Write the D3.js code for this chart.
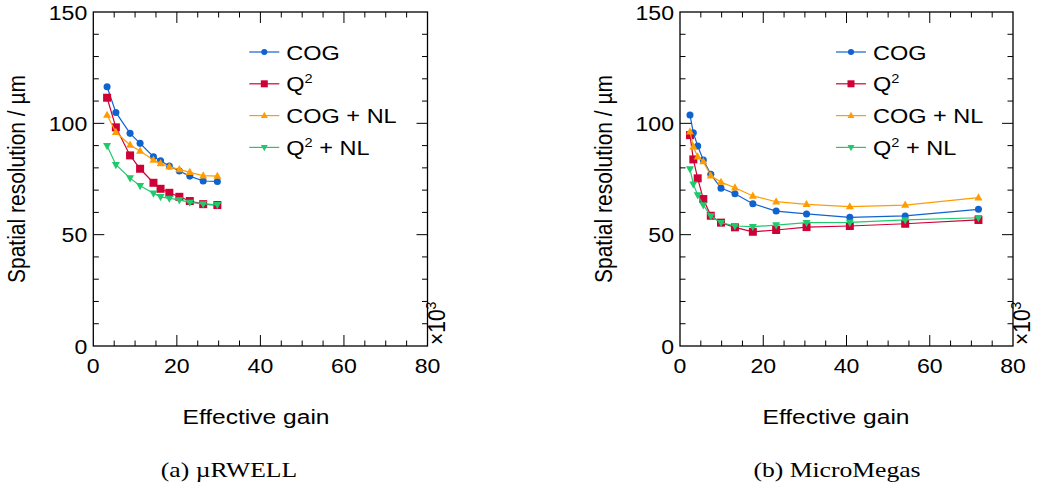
<!DOCTYPE html>
<html>
<head>
<meta charset="utf-8">
<script src="https://cdn.jsdelivr.net/npm/d3@7"></script>
<style>
html,body{margin:0;padding:0;background:#fff;}
svg{display:block;}
text{font-family:"Liberation Sans",Arial,Helvetica,sans-serif;fill:#000;}
.cap{font-family:"Liberation Serif","Times New Roman",serif;}
</style>
</head>
<body>
<svg id="c" width="1043" height="488"></svg>
<script>
// ---------- data (gain in units of 10^3, resolution in µm) ----------
const rwellGain  = [3.3, 5.4, 8.8, 11.2, 14.4, 16.1, 18.2, 20.6, 23.1, 26.3, 29.7];
const rwellCOG   = [116.4, 104.9, 95.5, 91.0, 85.0, 83.2, 80.8, 78.6, 76.3, 74.1, 73.9];
const rwellQ2    = [111.5, 98.2, 85.6, 79.6, 73.3, 70.6, 68.8, 67.0, 65.1, 63.7, 63.3];
const rwellCOGNL = [103.7, 96.0, 90.3, 87.6, 83.5, 82.0, 80.5, 79.3, 78.0, 76.5, 76.3];
const rwellQ2NL  = [89.9, 81.4, 75.4, 72.0, 68.6, 67.0, 66.3, 65.6, 64.5, 63.8, 63.4];

const mmGain  = [2.4, 3.2, 4.25, 5.6, 7.4, 9.85, 13.2, 17.5, 23.1, 30.4, 40.8, 54.1, 71.7];
const mmCOG   = [103.7, 95.8, 89.8, 83.5, 77.1, 70.9, 68.4, 63.9, 60.6, 59.3, 57.8, 58.4, 61.4];
const mmQ2    = [94.7, 83.8, 75.3, 66.0, 58.5, 55.4, 53.3, 51.3, 52.1, 53.4, 53.9, 54.9, 56.6];
const mmCOGNL = [96.2, 89.5, 85.0, 82.8, 76.5, 73.6, 71.1, 67.4, 64.8, 63.6, 62.6, 63.3, 66.6];
const mmQ2NL  = [79.5, 72.7, 67.8, 63.3, 58.4, 55.4, 53.9, 53.6, 54.3, 55.4, 55.5, 56.6, 57.6];

const seriesNames = ["COG", "Q2", "COG + NL", "Q2 + NL"];
const xMajorTicks = [0, 20, 40, 60, 80];
const yMajorTicks = [0, 50, 100, 150];
const xTitle = "Effective gain";
const yTitle = "Spatial resolution / µm";
const captions = ["(a) µRWELL", "(b) MicroMegas"];

// ---------- styles ----------
const colors  = ["#1063cf", "#cf0036", "#ff9c00", "#1fc96c"];
const symbols = ["circle", "square", "up", "down"];

const svg = d3.select("#c");

// text with horizontal stretch
function stext(g, x, y, sx, size, anchor, rot) {
  const tr = rot ? `translate(${x},${y}) rotate(-90) scale(1,${sx})` : `translate(${x},${y}) scale(${sx},1)`;
  return g.append("text").attr("transform", tr).attr("font-size", size).attr("text-anchor", anchor || "start");
}

function marker(g, type, x, y, color, s) {
  if (type === "circle") {
    g.append("circle").attr("cx", x).attr("cy", y).attr("r", s * 0.47).attr("fill", color);
  } else if (type === "square") {
    g.append("rect").attr("x", x - s / 2).attr("y", y - s / 2).attr("width", s).attr("height", s).attr("fill", color);
  } else if (type === "up") {
    const h = s * 0.9;
    g.append("path").attr("d", `M${x},${y - h * 0.62}L${x + s / 2},${y + h * 0.38}L${x - s / 2},${y + h * 0.38}Z`).attr("fill", color);
  } else {
    const h = s * 0.9;
    g.append("path").attr("d", `M${x},${y + h * 0.62}L${x + s / 2},${y - h * 0.38}L${x - s / 2},${y - h * 0.38}Z`).attr("fill", color);
  }
}

function label(sel, name) {
  if (name.startsWith("Q2")) {
    sel.append("tspan").text("Q");
    sel.append("tspan").text("2").attr("font-size", "0.62em").attr("dy", "-0.62em");
    const rest = name.slice(2);
    if (rest) sel.append("tspan").text(rest).attr("dy", "0.38em");
  } else {
    sel.text(name);
  }
}

function panel(x0, x1, gain, series, caption, capX, titleX) {
  const top = 12, bottom = 346;
  const x = d3.scaleLinear().domain([0, 80]).range([x0, x1]);
  const y = d3.scaleLinear().domain([0, 150]).range([bottom, top]);
  const g = svg.append("g");

  // frame
  g.append("rect").attr("x", x0).attr("y", top).attr("width", x1 - x0).attr("height", bottom - top)
    .attr("fill", "none").attr("stroke", "#000").attr("stroke-width", 1.3);

  // ticks
  const tk = g.append("g").attr("stroke", "#000").attr("stroke-width", 1);
  d3.range(0, 81, 5).forEach(v => {
    const L = v % 20 === 0 ? 11 : 5.5;
    if (v === 0 || v === 80) return;
    tk.append("line").attr("x1", x(v)).attr("x2", x(v)).attr("y1", bottom).attr("y2", bottom - L);
    tk.append("line").attr("x1", x(v)).attr("x2", x(v)).attr("y1", top).attr("y2", top + L);
  });
  d3.range(0, 151, 10).forEach(v => {
    const L = v % 50 === 0 ? 11 : 5.5;
    if (v === 0 || v === 150) return;
    tk.append("line").attr("x1", x0).attr("x2", x0 + L).attr("y1", y(v)).attr("y2", y(v));
    tk.append("line").attr("x1", x1).attr("x2", x1 - L).attr("y1", y(v)).attr("y2", y(v));
  });

  // tick labels
  xMajorTicks.forEach(v => {
    stext(g, x(v), 373, 1.1, 21, "middle").text(v);
  });
  yMajorTicks.forEach(v => {
    stext(g, x0 - 6, y(v) + 7.5, 1.1, 21, "end").text(v);
  });
  // x10^3
  const ex = stext(g, x1 + 17, bottom - 1, 1.1, 21, "start", true);
  ex.append("tspan").text("×10");
  ex.append("tspan").text("3").attr("font-size", 14).attr("dy", -8);

  // titles
  stext(g, titleX, 424, 1.17, 21, "middle").text(xTitle);
  stext(g, x0 - 68, (top + bottom) / 2, 1.1, 21, "middle", true).text(yTitle);
  stext(g, capX, 477, 1.22, 21, "middle").attr("class", "cap").text(caption);

  // series
  const line = d3.line().x(d => x(d[0])).y(d => y(d[1]));
  series.forEach((vals, i) => {
    const pts = gain.map((gv, k) => [gv, vals[k]]);
    g.append("path").attr("d", line(pts)).attr("fill", "none")
      .attr("stroke", colors[i]).attr("stroke-width", 1.2);
    const mg = g.append("g");
    pts.forEach(p => marker(mg, symbols[i], x(p[0]), y(p[1]), colors[i], i === 0 ? 7.5 : 8));
  });

  // legend
  const lx = x0 + 156;
  seriesNames.forEach((name, i) => {
    const ly = 52 + i * 31.8;
    g.append("line").attr("x1", lx).attr("x2", lx + 30).attr("y1", ly).attr("y2", ly)
      .attr("stroke", colors[i]).attr("stroke-width", 1.2);
    marker(g, symbols[i], lx + 15, ly, colors[i], i === 0 ? 6.5 : 7);
    const t = stext(g, lx + 37, ly + 7.5, 1.12, 21, "start");
    label(t, name);
  });
}

panel(93.3, 427.5, rwellGain, [rwellCOG, rwellQ2, rwellCOGNL, rwellQ2NL], captions[0], 229, 256);
panel(680, 1013, mmGain, [mmCOG, mmQ2, mmCOGNL, mmQ2NL], captions[1], 837, 836);
</script>
</body>
</html>
